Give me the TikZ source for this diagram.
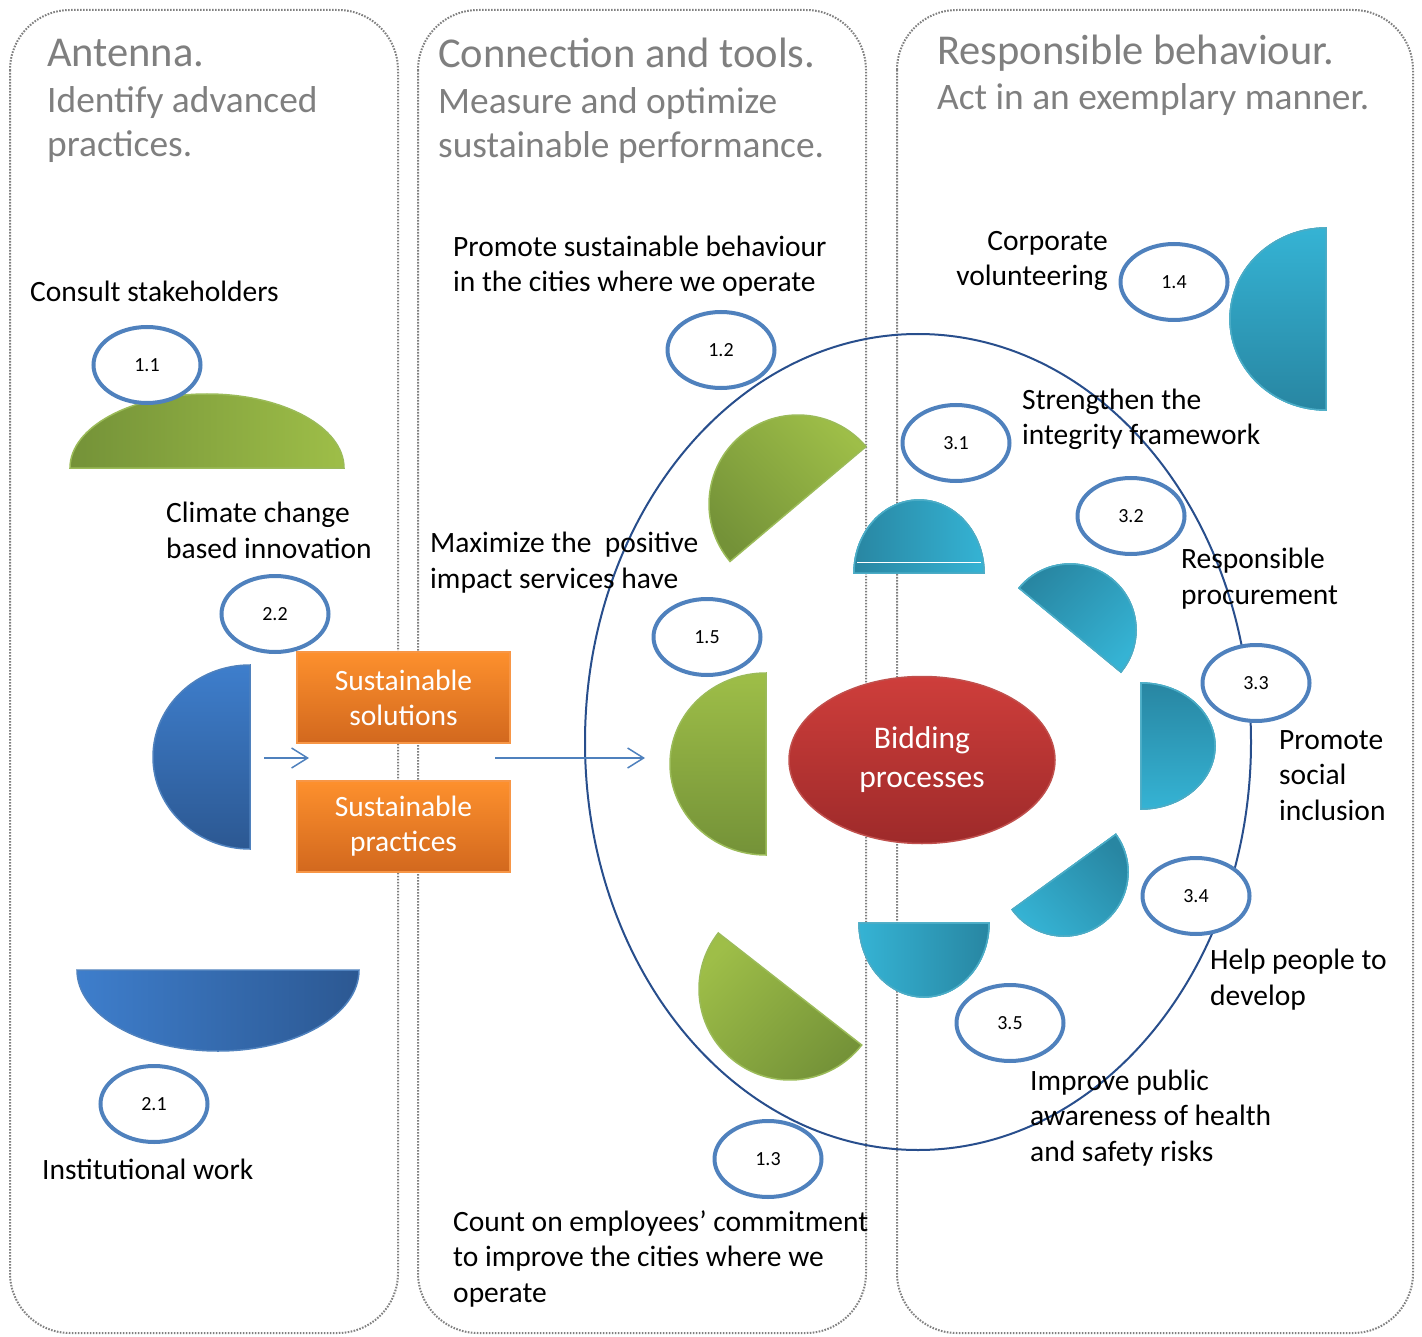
\documentclass[tikz,border=0pt]{standalone}
\usepackage{fontspec}
\setmainfont{Carlito}
\usetikzlibrary{shapes.geometric,arrows.meta}
\definecolor{grnL}{RGB}{158,190,72}
\definecolor{grnD}{RGB}{116,146,56}
\definecolor{grnE}{RGB}{155,187,89}
\definecolor{bluL}{RGB}{62,126,204}
\definecolor{bluD}{RGB}{44,88,146}
\definecolor{bluE}{RGB}{79,129,189}
\definecolor{cynL}{RGB}{53,179,212}
\definecolor{cynD}{RGB}{40,134,162}
\definecolor{cynE}{RGB}{75,172,198}
\definecolor{redT}{RGB}{206,62,59}
\definecolor{redB}{RGB}{158,42,42}
\definecolor{redE}{RGB}{192,80,77}
\definecolor{orgT}{RGB}{253,144,45}
\definecolor{orgB}{RGB}{210,104,30}
\definecolor{orgE}{RGB}{247,150,70}
\definecolor{numblue}{RGB}{79,129,189}
\definecolor{ringblue}{RGB}{40,78,140}
\definecolor{headgray}{RGB}{127,127,127}
\newcommand\halfdisc[6]{%
\begin{scope}[shift={(#1,#2)},rotate=#3]
\path[#6](0,-#5)arc[start angle=-90,end angle=90,x radius=#4,y radius=#5]--cycle;
\end{scope}}
\tikzset{
panel/.style={draw=gray,line width=2pt,dash pattern=on 1.6pt off 1.4pt,rounded corners=60pt},
greendisc/.style={top color=grnL,bottom color=grnD,draw=grnE,line width=1.5pt},
bluedisc/.style={top color=bluL,bottom color=bluD,draw=bluE,line width=1.5pt},
cyandisc/.style={top color=cynL,bottom color=cynD,draw=cynE,line width=1.5pt},
numell/.style={ellipse,draw=numblue,line width=4pt,fill=white,minimum width=107pt,minimum height=76pt,inner sep=0pt,font=\fontsize{20}{24}\selectfont},
solbox/.style={rectangle,top color=orgT,bottom color=orgB,draw=orgE,line width=1.5pt,minimum width=213pt,minimum height=91pt,inner sep=0pt,align=center,text=white,font=\fontsize{29.5}{35}\selectfont},
flow/.style={draw=numblue,line width=1.5pt,-{Straight Barb[length=16pt,width=20pt]}},
lbl/.style={align=left,anchor=base west,inner sep=0pt,font=\fontsize{29.5}{35.5}\selectfont},
head/.style={anchor=base west,inner sep=0pt,text=headgray,font=\fontsize{42.5}{46}\selectfont},
subhead/.style={align=left,anchor=base west,inner sep=0pt,text=headgray,font=\fontsize{37.4}{44.5}\selectfont}}
\begin{document}
\begin{tikzpicture}[x=1pt,y=-1pt]
\useasboundingbox(0,0)rectangle(1422,1337);
\draw[panel](10,10)rectangle(398,1333);
\draw[panel](418,10)rectangle(866,1333);
\draw[panel](897,10)rectangle(1413,1333);
% half discs
\halfdisc{207}{468}{90}{74}{137}{greendisc,shading angle=-90}
\halfdisc{250}{757}{180}{97}{92}{bluedisc,shading angle=0}
\halfdisc{218}{970}{-90}{81}{141}{bluedisc,shading angle=90}
\foreach \cx/\cy/\a/\ra/\rc/\sa in{798/504/130.2/89/89/-45,766/764/180/96/91/0,790/989/-128/91/91/45}
\halfdisc{\cx}{\cy}{\a}{\ra}{\rc}{greendisc,shading angle=\sa}
\foreach \cx/\cy/\a/\ra/\rc/\sa in{919/573/90/73/65/-90,1070/630/50.5/66/66/-135,1141/746/0/74/63/180,
1064/872/-54/64/64/135,924/923/-90/74/65/90,1326/319/180/96/91/0}
\halfdisc{\cx}{\cy}{\a}{\ra}{\rc}{cyandisc,shading angle=\sa}
\draw[white,line width=0.6pt](857,562)--(981,562);
\draw[ringblue,line width=2pt](918,742)ellipse[x radius=333,y radius=408];
\node[ellipse,minimum width=266pt,minimum height=167pt,top color=redT,bottom color=redB,draw=redE,line width=1.5pt,
text=white,align=center,font=\fontsize{31.5}{39}\selectfont](bid)at(922,760){Bidding\\processes};
\node[solbox](sol)at(403.5,697.5){Sustainable\\solutions};
\node[solbox](prac)at(403.5,826.5){Sustainable\\practices};
\coordinate(a1)at(264,758);\coordinate(a2)at(309,758);
\coordinate(a3)at(495,758);\coordinate(a4)at(645,758);
\draw[flow](a1)--(a2);
\draw[flow](a3)--(a4);
\foreach \n/\t/\x/\y in{11/1.1/147/365,22/2.2/275/614,21/2.1/154/1104,12/1.2/721/350,15/1.5/707/637,13/1.3/768/1159,
14/1.4/1174/282,31/3.1/956/443,32/3.2/1131/516,33/3.3/1256/683,34/3.4/1196/896,35/3.5/1010/1023}
\node[numell](n\n)at(\x,\y){\t};
% labels (base = last line)
\node[lbl](consult)at(30,302){Consult stakeholders};
\node[lbl](climate)at(166,558){Climate change\\based innovation};
\node[lbl](instit)at(42,1179){Institutional work};
\node[lbl](promote)at(453,292){Promote sustainable behaviour\\in the cities where we operate};
\node[lbl](maximize)at(430,588){Maximize the\ \ positive\\impact services have};
\node[lbl](count)at(453,1302){Count on employees’ commitment\\to improve the cities where we\\operate};
\node[lbl,align=right,anchor=base east](volunt)at(1108,286){Corporate\\volunteering};
\node[lbl](integ)at(1022,445){Strengthen the\\integrity framework};
\node[lbl](procure)at(1181,604){Responsible\\procurement};
\node[lbl](social)at(1279,820){Promote\\social\\inclusion};
\node[lbl](develop)at(1210,1005){Help people to\\develop};
\node[lbl](aware)at(1030,1161){Improve public\\awareness of health\\and safety risks};
% headers
\node[head](h1)at(47,67){Antenna.};
\node[subhead](s1)at(47,157){Identify advanced\\practices.};
\node[head](h2)at(438,68){Connection and tools.};
\node[subhead](s2)at(438,158){Measure and optimize\\sustainable performance.};
\node[head](h3)at(937,65){Responsible behaviour.};
\node[subhead](s3)at(937,110){Act in an exemplary manner.};
\end{tikzpicture}
\end{document}
